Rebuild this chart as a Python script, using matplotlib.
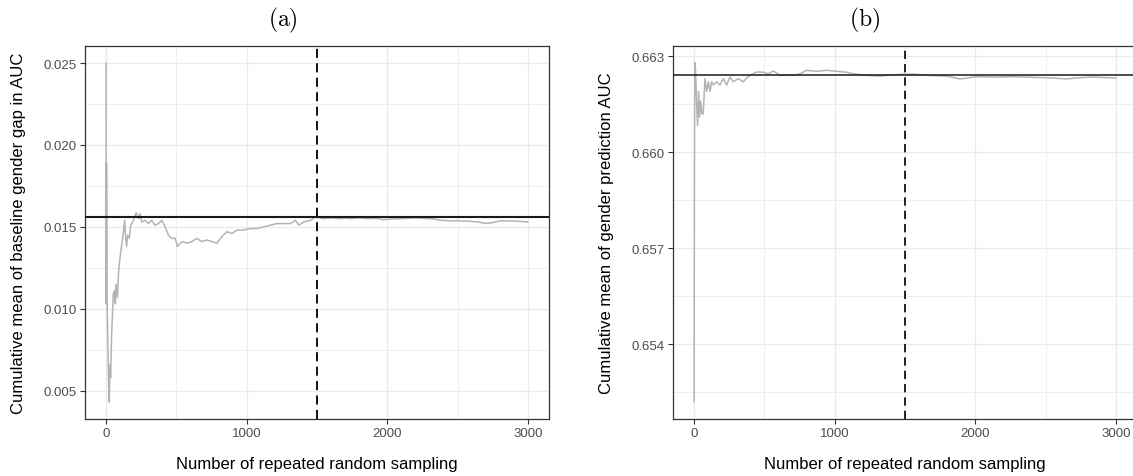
import matplotlib
matplotlib.use("Agg")
import matplotlib.pyplot as plt
from matplotlib.ticker import MultipleLocator, FixedLocator

plt.rcParams['font.family'] = ['Liberation Sans', 'DejaVu Sans']
plt.rcParams['mathtext.fontset'] = 'cm'

# ---------------- data ----------------
# Panel (a): cumulative mean of baseline gender gap in AUC
a_n = [1, 2, 4, 8, 14, 20, 24, 28, 33, 40, 52, 60, 67, 71, 81, 90, 100, 112, 124, 133,
       140, 147, 154, 166, 176, 190, 200, 214, 224, 233, 242, 254, 278, 302, 325, 349,
       373, 397, 420, 444, 468, 492, 508, 527, 550, 575, 611, 646, 682, 717, 753, 789,
       824, 860, 896, 931, 979, 1026, 1074, 1121, 1169, 1216, 1264, 1311, 1347, 1371,
       1407, 1454, 1490, 1549, 1600, 1660, 1715, 1739, 1800, 1858, 1920, 1976, 2030,
       2095, 2140, 2190, 2240, 2285, 2333, 2380, 2428, 2470, 2499, 2540, 2570, 2610,
       2641, 2670, 2689, 2736, 2770, 2808, 2850, 2903, 2950, 3000]
a_val = [0.0250, 0.0103, 0.0189, 0.0105, 0.0075, 0.0050, 0.0043, 0.0066, 0.0058, 0.0083,
         0.0109, 0.0111, 0.0103, 0.0115, 0.0107, 0.0123, 0.0131, 0.0139, 0.0147, 0.0154,
         0.0143, 0.0138, 0.0145, 0.0143, 0.0151, 0.0153, 0.0155, 0.01585, 0.0157, 0.0155,
         0.0158, 0.0153, 0.0154, 0.0152, 0.0154, 0.0151, 0.0152, 0.0154, 0.0150, 0.0145,
         0.0143, 0.0143, 0.0138, 0.0140, 0.0141, 0.0140, 0.0141, 0.0143, 0.0141, 0.0142,
         0.0141, 0.0140, 0.0144, 0.0147, 0.0146, 0.0148, 0.0148, 0.0149, 0.0149, 0.0150,
         0.0151, 0.0152, 0.0152, 0.0152, 0.0154, 0.0151, 0.0153, 0.0154, 0.0156, 0.0155,
         0.01555, 0.0155, 0.01553, 0.0155, 0.01555, 0.0155, 0.01552, 0.01544, 0.01548,
         0.0155, 0.01552, 0.01555, 0.01553, 0.0155, 0.01548, 0.0154, 0.01538, 0.01536,
         0.01538, 0.01535, 0.01535, 0.01532, 0.0153, 0.01526, 0.01522, 0.01524, 0.0153,
         0.01538, 0.01536, 0.01535, 0.01533, 0.0153]
a_hline = 0.01561

# Panel (b): cumulative mean of gender prediction AUC
b_n = [1, 3, 6, 10, 19, 26, 33, 40, 47, 57, 66, 78, 90, 102, 114, 126, 137, 161, 185,
       209, 232, 256, 280, 315, 351, 375, 398, 446, 493, 529, 564, 612, 659, 706, 754,
       801, 872, 943, 1015, 1086, 1133, 1228, 1323, 1418, 1500, 1560, 1678, 1773, 1797,
       1891, 1962, 2010, 2153, 2270, 2413, 2555, 2650, 2745, 2840, 2935, 3000]
b_val = [0.6522, 0.6587, 0.6628, 0.6627, 0.66152, 0.66084, 0.6619, 0.6611, 0.6616,
         0.6612, 0.6612, 0.6623, 0.6619, 0.6622, 0.6619, 0.6622, 0.6621, 0.6622, 0.6621,
         0.6623, 0.6621, 0.66235, 0.6622, 0.6623, 0.6622, 0.66232, 0.6624, 0.66251,
         0.66250, 0.66245, 0.66254, 0.6624, 0.66242, 0.6624, 0.66245, 0.66256, 0.66253,
         0.66256, 0.66253, 0.6625, 0.66245, 0.6624, 0.66238, 0.66242, 0.66244, 0.66244,
         0.6624, 0.66238, 0.66238, 0.66229, 0.66233, 0.66236, 0.66235, 0.66236, 0.66234,
         0.66232, 0.66229, 0.66233, 0.66235, 0.66233, 0.66232]
b_hline = 0.66240

vline_x = 1500
x_ticks = [0, 1000, 2000, 3000]
a_yticks = [0.005, 0.010, 0.015, 0.020, 0.025]
b_yticks = [0.654, 0.657, 0.660, 0.663]

xlabel = "Number of repeated random sampling"
a_ylabel = "Cumulative mean of baseline gender gap in AUC"
b_ylabel = "Cumulative mean of gender prediction AUC"

# ---------------- figure ----------------
W, H = 1133, 477
fig = plt.figure(figsize=(W / 100, H / 100), dpi=100)
fig.patch.set_facecolor('white')

def px_axes(left, top, right, bottom):
    return fig.add_axes([left / W, 1 - bottom / H, (right - left) / W, (bottom - top) / H])

ax_a = px_axes(85, 47, 549, 420)
ax_b = px_axes(673, 47, 1137, 420)

def style(ax, yticks, yminor, ylim, ylabel, fmt, hline_lw, vline_lw):
    ax.set_xlim(-149, 3150)
    ax.set_ylim(*ylim)
    ax.xaxis.set_major_locator(FixedLocator(x_ticks))
    ax.xaxis.set_minor_locator(MultipleLocator(500))
    ax.yaxis.set_major_locator(FixedLocator(yticks))
    ax.yaxis.set_minor_locator(MultipleLocator(yminor))
    ax.set_yticklabels([fmt.format(v) for v in yticks])
    ax.grid(True, which='major', color='#EBEBEB', linewidth=1.0, zorder=0)
    ax.grid(True, which='minor', color='#EBEBEB', linewidth=0.6, zorder=0)
    ax.set_axisbelow(True)
    for s in ax.spines.values():
        s.set_color('#333333')
        s.set_linewidth(0.9)
    ax.tick_params(which='major', length=3.5, width=0.8, color='#333333',
                   labelsize=9.5, labelcolor='#4D4D4D', pad=2.5)
    ax.tick_params(which='minor', length=0)
    ax.set_xlabel(xlabel, fontsize=12, color='black')
    ax.set_ylabel(ylabel, fontsize=12, color='black')
    ax.xaxis.set_label_coords(0.5, -0.098)
    ax.yaxis.set_label_coords(-0.128, 0.5)
    ax.axvline(vline_x, color='black', linestyle=(0, (5, 3)), linewidth=vline_lw, zorder=3)

style(ax_a, a_yticks, 0.0025, (0.00327, 0.02604), a_ylabel, "{:.3f}", 1.5, 1.3)
style(ax_b, b_yticks, 0.0015, (0.65166, 0.66332), b_ylabel, "{:.3f}", 1.0, 1.2)

ax_a.plot(a_n, a_val, color='#B3B3B3', linewidth=1.1, zorder=2)
ax_a.axhline(a_hline, color='#1A1A1A', linewidth=1.5, zorder=4)
ax_b.plot(b_n, b_val, color='#B3B3B3', linewidth=1.1, zorder=2)
ax_b.axhline(b_hline, color='#1A1A1A', linewidth=1.1, zorder=4)

fig.text(283 / W, 1 - 20 / H, r'$\mathrm{(a)}$', fontsize=17, ha='center', va='center')
fig.text(865 / W, 1 - 20 / H, r'$\mathrm{(b)}$', fontsize=17, ha='center', va='center')

fig.savefig('out.png', dpi=100, facecolor='white')
